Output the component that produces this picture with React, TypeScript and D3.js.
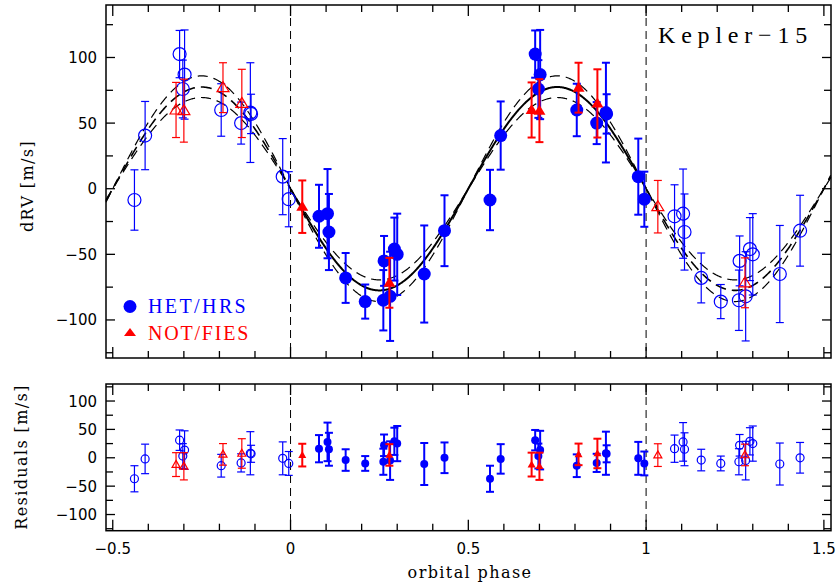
import React, { useEffect, useRef } from 'react';
import * as d3 from 'd3';

// HET/HRS points, phase-folded (0..1)
const hetPhase = [0.080, 0.104, 0.108, 0.155, 0.210, 0.261, 0.263, 0.280, 0.292, 0.300, 0.376, 0.433, 0.561, 0.591, 0.688, 0.697, 0.702, 0.805, 0.861, 0.887, 0.889, 0.978, 0.995];
const hetRV = [-21, -19, -33, -68, -86, -85, -55, -82, -46, -50, -65, -32, -8.6, 40.5, 102.6, 76, 87, 60, 50, 58, 57, 9.2, -8];
const hetErr = [24, 34, 29, 19, 13, 23, 19, 34, 24, 31, 37, 27, 23, 26, 18, 22, 34, 20, 16, 38, 15, 29, 21];
const hetRes = [16, 28, 15, -4, -10, -7, 22, -5, 29, 25, -11, 0, -37, -2, 31, 3, 13.5, -14, -9, 8, 7, -1, -10];

// NOT/FIES points
const notPhase = [0.033, 0.278, 0.678, 0.700, 0.810, 0.863];
const notRV = [-13.7, -71.7, 60, 59.5, 77, 65];
const notErr = [20, 19, 21, 24, 19, 26];
const notRes = [4.7, 5, -12, -15, 6, 7.6];

// orbit fit amplitude (K) and its 1-sigma envelope, m/s
const fitK = [69.5, 77.5, 86];

const xTicks = d3.range(-5, 16).map((d) => d / 10);
const yTicks = d3.range(-125, 126, 25);
const yLabels = [-100, -50, 0, 50, 100];
const xLabels = [-0.5, 0, 0.5, 1, 1.5];

const BLUE = '#0000ff';
const RED = '#ff0000';

const fmt = (v: number) => String(v).replace('-', '\u2212');

const App = () => {
  const svgRef = useRef(null);
  const width = 839;
  const height = 584;

  const x = d3.scaleLinear().domain([-0.519, 1.52]).range([106, 831]);
  const yTop = d3.scaleLinear().domain([-129, 140]).range([358, 5]);
  const yRes = d3.scaleLinear().domain([-128.5, 130]).range([530.7, 384]);

  useEffect(() => {
    const svg = d3.select(svgRef.current);
    svg.selectAll('*').remove();

    const pts = (phase: number[], v: number[], e: number[], kind: string) => {
      const out: any[] = [];
      phase.forEach((p, i) => {
        out.push({ p, v: v[i], e: e[i], kind, open: false });
        out.push({ p: p < 0.5 ? p + 1 : p - 1, v: v[i], e: e[i], kind, open: true });
      });
      return out;
    };

    const panel = (y: any, top: boolean) => {
      const [y0, y1] = y.range();
      const [x0, x1] = x.range();
      const g = svg.append('g');

      // vertical dashed lines at phase 0 and 1
      [0, 1].forEach((p) => {
        g.append('line')
          .attr('x1', x(p)).attr('x2', x(p))
          .attr('y1', y1).attr('y2', y0)
          .attr('stroke', '#000').attr('stroke-width', 1)
          .attr('stroke-dasharray', '8,5');
      });

      // x ticks, top and bottom
      xTicks.forEach((t) => {
        const major = Math.abs(t * 2 - Math.round(t * 2)) < 1e-6;
        const len = major ? 11 : 7;
        g.append('line').attr('x1', x(t)).attr('x2', x(t)).attr('y1', y0).attr('y2', y0 - len)
          .attr('stroke', '#000').attr('stroke-width', 1.3);
        g.append('line').attr('x1', x(t)).attr('x2', x(t)).attr('y1', y1).attr('y2', y1 + len)
          .attr('stroke', '#000').attr('stroke-width', 1.3);
      });
      // y ticks, left and right
      yTicks.forEach((t) => {
        const len = t % 50 === 0 ? 9 : 7;
        g.append('line').attr('x1', x0).attr('x2', x0 + len).attr('y1', y(t)).attr('y2', y(t))
          .attr('stroke', '#000').attr('stroke-width', 1.3);
        g.append('line').attr('x1', x1).attr('x2', x1 - len).attr('y1', y(t)).attr('y2', y(t))
          .attr('stroke', '#000').attr('stroke-width', 1.3);
      });
      yLabels.forEach((t) => {
        g.append('text').attr('x', 97).attr('y', y(t) + 5.5)
          .attr('text-anchor', 'end')
          .style('font-family', 'DejaVu Sans').style('font-size', '15px')
          .text(fmt(t));
      });

      // model curves
      if (top) {
        const phases = d3.range(-0.519, 1.5205, 0.002);
        const curve = (K: number) =>
          d3.line<number>().x((p) => x(p)).y((p) => y(-K * Math.sin(2 * Math.PI * p)));
        fitK.forEach((K, i) => {
          if (i === 1) {
            g.append('path').datum(phases.filter((p) => p >= 0 && p <= 1))
              .attr('d', curve(K)).attr('fill', 'none').attr('stroke', '#000').attr('stroke-width', 2);
            g.append('path').datum(phases.filter((p) => p <= 0))
              .attr('d', curve(K)).attr('fill', 'none').attr('stroke', '#000').attr('stroke-width', 1.6)
              .attr('stroke-dasharray', '11,6');
            g.append('path').datum(phases.filter((p) => p >= 1))
              .attr('d', curve(K)).attr('fill', 'none').attr('stroke', '#000').attr('stroke-width', 1.6)
              .attr('stroke-dasharray', '11,6');
          } else {
            g.append('path').datum(phases)
              .attr('d', curve(K)).attr('fill', 'none').attr('stroke', '#000').attr('stroke-width', 1.2)
              .attr('stroke-dasharray', '10,6');
          }
        });
      }

      // data
      const data = [
        ...pts(hetPhase, top ? hetRV : hetRes, hetErr, 'het'),
        ...pts(notPhase, top ? notRV : notRes, notErr, 'not'),
      ].filter((d) => d.p >= -0.519 && d.p <= 1.52);

      const r = top ? 6.5 : 4;
      const tw = top ? 6 : 4;
      const th = top ? 10 : 7;
      const cap = 4;

      data.forEach((d) => {
        const col = d.kind === 'het' ? BLUE : RED;
        const sw = d.open ? 1.2 : 2;
        const cx = x(d.p);
        const ya = y(d.v - d.e);
        const yb = y(d.v + d.e);
        g.append('line').attr('x1', cx).attr('x2', cx).attr('y1', ya).attr('y2', yb)
          .attr('stroke', col).attr('stroke-width', sw);
        [ya, yb].forEach((yy) => {
          g.append('line').attr('x1', cx - cap).attr('x2', cx + cap).attr('y1', yy).attr('y2', yy)
            .attr('stroke', col).attr('stroke-width', sw);
        });
        const cy = y(d.v);
        if (d.kind === 'het') {
          g.append('circle').attr('cx', cx).attr('cy', cy).attr('r', r)
            .attr('fill', d.open ? 'none' : col).attr('stroke', col).attr('stroke-width', d.open ? 1.2 : 0);
        } else {
          const path = `M${cx},${cy - th * 0.6}L${cx + tw},${cy + th * 0.4}L${cx - tw},${cy + th * 0.4}Z`;
          g.append('path').attr('d', path)
            .attr('fill', d.open ? 'none' : col).attr('stroke', col).attr('stroke-width', d.open ? 1.2 : 0);
        }
      });

      // frame
      g.append('rect').attr('x', x0).attr('y', y1).attr('width', x1 - x0).attr('height', y0 - y1)
        .attr('fill', 'none').attr('stroke', '#000').attr('stroke-width', 1.5);
    };

    panel(yTop, true);
    panel(yRes, false);

    // x tick labels
    xLabels.forEach((t) => {
      svg.append('text').attr('x', x(t)).attr('y', 554)
        .attr('text-anchor', 'middle')
        .style('font-family', 'DejaVu Sans').style('font-size', '15px')
        .text(fmt(t));
    });

    // axis titles
    const title = (txt: string, tx: number, ty: number, rot: number) => {
      svg.append('text')
        .attr('transform', `translate(${tx},${ty}) rotate(${rot})`)
        .attr('text-anchor', 'middle')
        .style('font-family', 'DejaVu Serif').style('font-size', '16px').style('letter-spacing', '1.4px')
        .text(txt);
    };
    title('dRV [m/s]', 33, 186, -90);
    title('Residuals [m/s]', 27, 457, -90);
    title('orbital phase', 470, 578, 0);

    // legend
    svg.append('circle').attr('cx', 130).attr('cy', 306.5).attr('r', 6.5).attr('fill', BLUE);
    svg.append('path').attr('d', 'M130,328L136,336L124,336Z').attr('fill', RED);
    svg.append('text').attr('x', 148).attr('y', 313).attr('fill', BLUE)
      .style('font-family', 'Liberation Serif').style('font-size', '20px').style('letter-spacing', '2.4px')
      .text('HET/HRS');
    svg.append('text').attr('x', 148).attr('y', 340).attr('fill', RED)
      .style('font-family', 'Liberation Serif').style('font-size', '20px').style('letter-spacing', '1.8px')
      .text('NOT/FIES');

    svg.append('text').attr('x', 658).attr('y', 43)
      .style('font-family', 'Liberation Serif').style('font-size', '24px').style('letter-spacing', '5.8px')
      .text('Kepler\u221215');
  }, []);

  return (
    <svg
      ref={svgRef}
      width={width}
      height={height}
      style={{ position: 'absolute', left: 0, top: 0, background: '#fff' }}
    />
  );
};

export default App;
